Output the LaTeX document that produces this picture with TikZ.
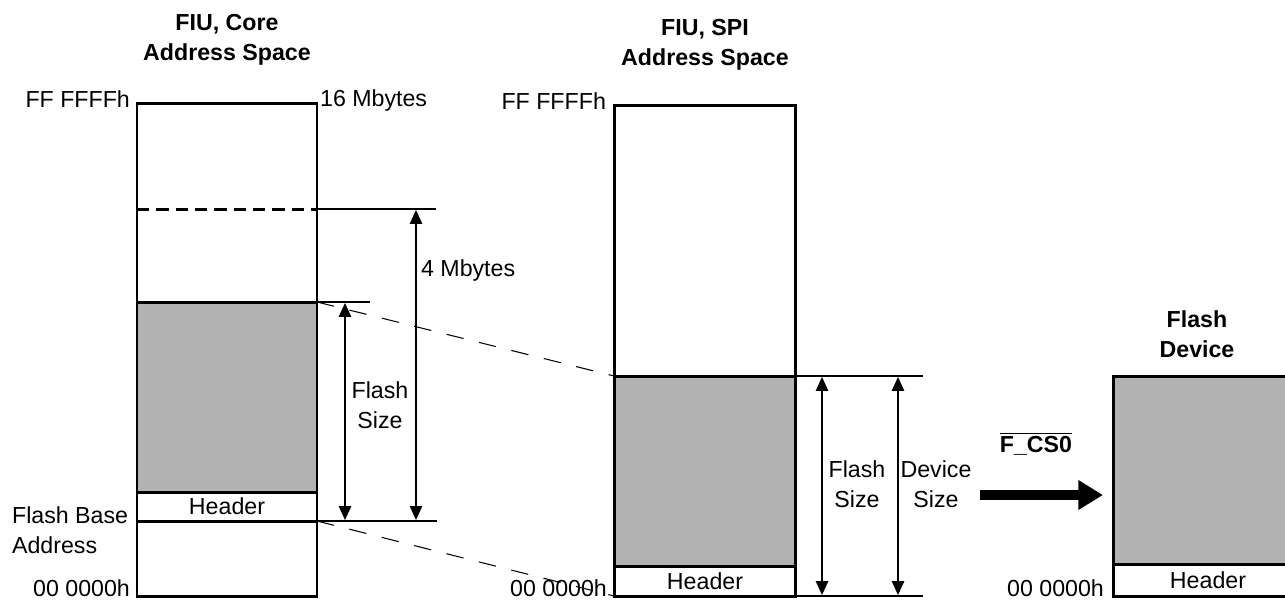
\documentclass[tikz,border=0pt]{standalone}
\usepackage{fontspec}
\setmainfont{Liberation Sans}
\usetikzlibrary{arrows.meta}

\begin{document}
\begin{tikzpicture}[
    x=0.02cm, y=-0.02cm,
    font=\fontsize{13.2}{17}\selectfont,
    >={Triangle[length=8pt,width=7pt]},
    membox/.style={draw=black, line width=1.7pt},
    flashfill/.style={fill=black!30},
    dashdiv/.style={line width=1.7pt, dash pattern=on 7pt off 4pt},
    extline/.style={line width=1pt},
    dimarrow/.style={<->, line width=1pt, shorten <=0.5pt, shorten >=0.5pt},
    mapline/.style={line width=0.6pt, dash pattern=on 10pt off 9pt},
    bigarrow/.style={-{Triangle[length=14pt,width=16pt]}, line width=5.5pt},
    lbl/.style={inner sep=1pt},
    headline/.style={inner sep=1pt, align=center, font=\fontsize{13.2}{17}\selectfont\bfseries},
]
\useasboundingbox (0,0) rectangle (1285,600);

% ==================== CORE ADDRESS SPACE ====================
\coordinate (cTL)    at (137,103);
\coordinate (cBR)    at (317,596);
\coordinate (cDashL) at (137,209);
\coordinate (cDashR) at (317,209);
\coordinate (cDashX) at (436,209);
\coordinate (cFlsL)  at (137,302);
\coordinate (cFlsR)  at (317,302);
\coordinate (cFlsX)  at (370,302);
\coordinate (cHdrL)  at (137,492);
\coordinate (cHdrR)  at (317,492);
\coordinate (cBaseL) at (137,521);
\coordinate (cBaseR) at (317,521);
\coordinate (cBaseX) at (437,521);

% Shaded flash region
\fill[flashfill] (cFlsL) rectangle (cHdrR);

% Box and dividers
\draw[membox] (cTL) rectangle (cBR);
\draw[membox] (cFlsL) -- (cFlsR);
\draw[membox] (cHdrL) rectangle (cBaseR);
\draw[dashdiv] (cDashL) -- (cDashR);

% Extension lines
\draw[extline] (cDashR) -- (cDashX);
\draw[extline] (cFlsR) -- (cFlsX);
\draw[extline] (cBaseR) -- (cBaseX);

% Dimension arrows
\coordinate (cFsTop) at (345,302);
\coordinate (cFsBot) at (345,521);
\coordinate (cMbTop) at (416,209);
\coordinate (cMbBot) at (416,521);
\draw[dimarrow] (cFsTop) -- (cFsBot);
\draw[dimarrow] (cMbTop) -- (cMbBot);

% Labels
\node[headline] (cTitle) at (227,40) {FIU, Core\\Address Space};
\node[lbl, anchor=east] (cTopAddr) at (132,99) {FF FFFFh};
\node[lbl, anchor=west] (cMax) at (318,100) {16 Mbytes};
\node[lbl, anchor=west] (cFour) at (419,270) {4 Mbytes};
\node[lbl, align=center] (cFsLbl) at (380,405) {Flash\\Size};
\node[lbl] (cHdrLbl) at (227,506) {Header};
\node[lbl, anchor=west, align=left] (cBase) at (10,530) {Flash Base\\Address};
\node[lbl, anchor=east] (cBotAddr) at (132,588) {00 0000h};

% ==================== SPI ADDRESS SPACE ====================
\coordinate (sTL)   at (614,105);
\coordinate (sBR)   at (795,596);
\coordinate (sBL)   at (614,596);
\coordinate (sFlsL) at (614,376);
\coordinate (sFlsR) at (795,376);
\coordinate (sFlsX) at (923,376);
\coordinate (sHdrL) at (614,566);
\coordinate (sBotX) at (923,596);

% Shaded flash region
\fill[flashfill] (sFlsL) rectangle (795,566);

% Box and dividers
\draw[membox] (sTL) rectangle (sBR);
\draw[membox] (sFlsL) -- (sFlsR);
\draw[membox] (sHdrL) -- (795,566);

% Extension lines
\draw[extline] (sFlsR) -- (sFlsX);
\draw[extline] (sBR) -- (sBotX);

% Dimension arrows
\coordinate (sFsTop) at (822,376);
\coordinate (sFsBot) at (822,596);
\coordinate (sDsTop) at (898,376);
\coordinate (sDsBot) at (898,596);
\draw[dimarrow] (sFsTop) -- (sFsBot);
\draw[dimarrow] (sDsTop) -- (sDsBot);

% Labels
\node[headline] (sTitle) at (705,45) {FIU, SPI\\Address Space};
\node[lbl, anchor=east] (sTopAddr) at (608,101) {FF FFFFh};
\node[lbl, anchor=east] (sBotAddr) at (609,588) {00 0000h};
\node[lbl] (sHdrLbl) at (705,581) {Header};
\node[lbl, align=center] (sFsLbl) at (857,484) {Flash\\Size};
\node[lbl, align=center] (sDsLbl) at (936,484) {Device\\Size};

% Mapping lines core -> SPI
\draw[mapline] (cFlsR) -- (sFlsL);
\draw[mapline] (cBaseR) -- (sBL);

% ==================== FLASH DEVICE ====================
\coordinate (fTL)   at (1113,376);
\coordinate (fBR)   at (1300,596);
\coordinate (fHdrL) at (1113,564);
\coordinate (fHdrR) at (1300,564);

\fill[flashfill] (fTL) rectangle (fHdrR);
\draw[membox] (fTL) rectangle (fBR);
\draw[membox] (fHdrL) -- (fHdrR);

\node[headline] (fTitle) at (1197,334) {Flash\\Device};
\node[lbl] (fHdrLbl) at (1208,580) {Header};
\node[lbl, anchor=east] (fBotAddr) at (1106,588) {00 0000h};

% Chip select arrow
\coordinate (csFrom) at (980,495);
\coordinate (csTo)   at (1103,495);
\draw[bigarrow] (csFrom) -- (csTo);
\node[lbl] (csLbl) at (1036,444) {$\overline{\mbox{\bfseries F\_CS0}}$};

\end{tikzpicture}
\end{document}
